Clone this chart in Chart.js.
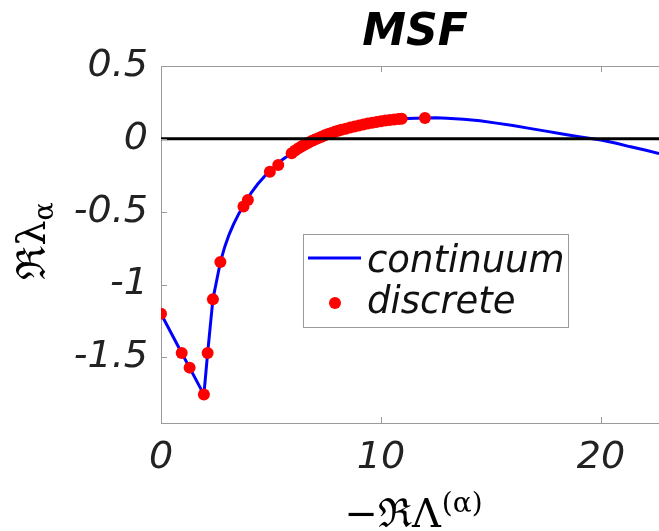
<!DOCTYPE html>
<html>
<head>
<meta charset="utf-8">
<script src="https://cdn.jsdelivr.net/npm/chart.js@4.4.0/dist/chart.umd.min.js"></script>
<style>
  html, body { margin: 0; padding: 0; background: #fff; }
  canvas { display: block; }
</style>
</head>
<body>
<canvas id="msf" width="659" height="531"></canvas>
<script>
// continuum MSF curve
const continuumX = [0, 0.94, 1.3, 1.95, 2.12, 2.36, 2.7, 2.9, 3.1, 3.3, 3.55, 3.85, 4.1, 4.4, 4.75, 5.1, 5.5, 5.94,
  6.35, 6.8, 7.25, 7.7, 8.15, 8.6, 9.05, 9.5, 9.95, 10.4, 10.8, 11.2, 11.6, 12.0, 12.5, 13.0, 13.75, 14.5, 15.25,
  16.0, 16.75, 17.5, 18.25, 19.0, 20.0, 20.7, 21.3, 22.0, 22.64];
const continuumY = [-1.2, -1.47, -1.57, -1.755, -1.47, -1.1, -0.845, -0.74, -0.655, -0.585, -0.51, -0.435, -0.37, -0.31, -0.25, -0.2, -0.145, -0.098,
  -0.055, -0.018, 0.012, 0.039, 0.06, 0.078, 0.094, 0.108, 0.12, 0.131, 0.137, 0.14, 0.142, 0.143, 0.144, 0.142, 0.135, 0.124, 0.108,
  0.091, 0.072, 0.053, 0.034, 0.015, -0.008, -0.03, -0.053, -0.077, -0.1];

// discrete eigenvalues
const discreteX = [0, 0.94, 1.3, 1.95, 2.12, 2.36, 2.7, 3.75, 3.95, 4.95, 5.33,
  5.94, 6.1, 6.25, 6.4, 6.55, 6.7, 6.85, 7.0, 7.15, 7.3, 7.45, 7.6, 7.75, 7.9, 8.05, 8.2, 8.4, 8.6, 8.8,
  9.0, 9.2, 9.4, 9.6, 9.8, 10.0, 10.2, 10.4, 10.6, 10.8, 10.94, 12.0];
const discreteY = [-1.2, -1.47, -1.57, -1.755, -1.47, -1.1, -0.845, -0.465, -0.42, -0.225, -0.18,
  -0.098, -0.08, -0.064, -0.05, -0.038, -0.026, -0.015, -0.005, 0.005, 0.015, 0.024, 0.033, 0.041, 0.048, 0.055, 0.062, 0.07, 0.078, 0.085,
  0.092, 0.099, 0.105, 0.111, 0.116, 0.121, 0.126, 0.13, 0.133, 0.136, 0.138, 0.143];

const xTicks = [0, 10, 20];
const yTicks = [0.5, 0, -0.5, -1, -1.5];
const xRange = [0, 22.64];
const yRange = [-1.95, 0.5];

const sans = "'DejaVu Sans', sans-serif";
const serif = "'DejaVu Serif', serif";
const axisGray = '#9a9a9a';

const toPoints = (xs, ys) => xs.map((x, i) => ({ x: x, y: ys[i] }));

const adornos = {
  id: 'adornos',
  afterDatasetsDraw(chart) {
    const ctx = chart.ctx;
    const a = chart.chartArea;
    const sx = chart.scales.x, sy = chart.scales.y;

    // zero line on top of the data
    const y0 = sy.getPixelForValue(0);
    ctx.save();
    ctx.strokeStyle = '#000';
    ctx.lineWidth = 3;
    ctx.beginPath();
    ctx.moveTo(a.left, y0);
    ctx.lineTo(a.right, y0);
    ctx.stroke();

    // box top + inward ticks
    ctx.strokeStyle = axisGray;
    ctx.lineWidth = 1;
    ctx.beginPath();
    ctx.moveTo(a.left, a.top + 0.5);
    ctx.lineTo(a.right, a.top + 0.5);
    xTicks.forEach(v => {
      const px = Math.round(sx.getPixelForValue(v)) + 0.5;
      ctx.moveTo(px, a.bottom);
      ctx.lineTo(px, a.bottom - 6);
      ctx.moveTo(px, a.top);
      ctx.lineTo(px, a.top + 6);
    });
    yTicks.forEach(v => {
      const py = Math.round(sy.getPixelForValue(v)) + 0.5;
      ctx.moveTo(a.left, py);
      ctx.lineTo(a.left + 6, py);
    });
    ctx.stroke();

    // legend
    ctx.fillStyle = '#fff';
    ctx.fillRect(303, 234, 265, 93);
    ctx.strokeStyle = axisGray;
    ctx.strokeRect(303.5, 234.5, 265, 93);
    ctx.strokeStyle = chart.data.datasets[0].borderColor;
    ctx.lineWidth = 3;
    ctx.beginPath();
    ctx.moveTo(308, 258);
    ctx.lineTo(361, 258);
    ctx.stroke();
    ctx.fillStyle = chart.data.datasets[1].backgroundColor;
    ctx.beginPath();
    ctx.arc(335, 303, 6, 0, Math.PI * 2);
    ctx.fill();
    ctx.fillStyle = '#111';
    ctx.font = 'italic 37px ' + sans;
    ctx.textAlign = 'left';
    ctx.textBaseline = 'alphabetic';
    ctx.fillText(chart.data.datasets[0].label, 367, 272);
    ctx.fillText(chart.data.datasets[1].label, 367, 313);

    // title
    ctx.font = 'italic bold 44px ' + sans;
    ctx.textAlign = 'center';
    ctx.fillStyle = '#000';
    ctx.fillText('MSF', 415, 45);

    // x label: −ℜΛ^(α)
    ctx.font = '40px ' + serif;
    const main = '\u2212\u211C\u039B';
    const sup = '(\u03B1)';
    const wMain = ctx.measureText(main).width;
    ctx.font = '28px ' + serif;
    const wSup = ctx.measureText(sup).width;
    let xs = 413 - (wMain + wSup) / 2;
    ctx.textAlign = 'left';
    ctx.font = '40px ' + serif;
    ctx.fillText(main, xs, 527);
    ctx.font = '28px ' + serif;
    ctx.fillText(sup, xs + wMain + 1, 512);

    // y label: ℜλ_α
    ctx.translate(45, 241);
    ctx.rotate(-Math.PI / 2);
    ctx.font = '40px ' + serif;
    const yMain = '\u211C\u03BB';
    const wy = ctx.measureText(yMain).width;
    ctx.font = '27px ' + serif;
    const wys = ctx.measureText('\u03B1').width;
    const start = -(wy + wys) / 2;
    ctx.font = '40px ' + serif;
    ctx.fillText(yMain, start, 0);
    ctx.font = '27px ' + serif;
    ctx.fillText('\u03B1', start + wy, 8);
    ctx.restore();
  }
};

new Chart(document.getElementById('msf'), {
  type: 'scatter',
  data: {
    datasets: [
      {
        label: 'continuum',
        data: toPoints(continuumX, continuumY),
        showLine: true,
        borderColor: '#0000ff',
        borderWidth: 3,
        pointRadius: 0,
        tension: 0,
        order: 2
      },
      {
        label: 'discrete',
        data: toPoints(discreteX, discreteY),
        backgroundColor: '#ff0000',
        borderWidth: 0,
        pointRadius: 6,
        order: 1
      }
    ]
  },
  options: {
    responsive: false,
    animation: false,
    layout: { autoPadding: false, padding: { top: 66, left: 0, right: 0, bottom: 0 } },
    plugins: { legend: { display: false }, tooltip: { enabled: false } },
    scales: {
      x: {
        type: 'linear',
        min: xRange[0],
        max: xRange[1],
        afterBuildTicks: s => { s.ticks = xTicks.map(v => ({ value: v })); },
        afterFit: s => { s.height = 108; s.paddingLeft = 0; s.paddingRight = 0; },
        grid: { display: false, drawTicks: false },
        border: { display: true, color: axisGray, width: 1 },
        ticks: {
          maxRotation: 0,
          padding: 12,
          color: '#222',
          font: { family: sans, style: 'italic', size: 38 },
          callback: v => String(v)
        }
      },
      y: {
        type: 'linear',
        min: yRange[0],
        max: yRange[1],
        afterBuildTicks: s => { s.ticks = yTicks.map(v => ({ value: v })); },
        afterFit: s => { s.width = 161; },
        grid: { display: false, drawTicks: false },
        border: { display: true, color: axisGray, width: 1 },
        ticks: {
          padding: 13,
          color: '#222',
          font: { family: sans, style: 'italic', size: 38 },
          callback: v => String(v)
        }
      }
    }
  },
  plugins: [adornos]
});
</script>
</body>
</html>
